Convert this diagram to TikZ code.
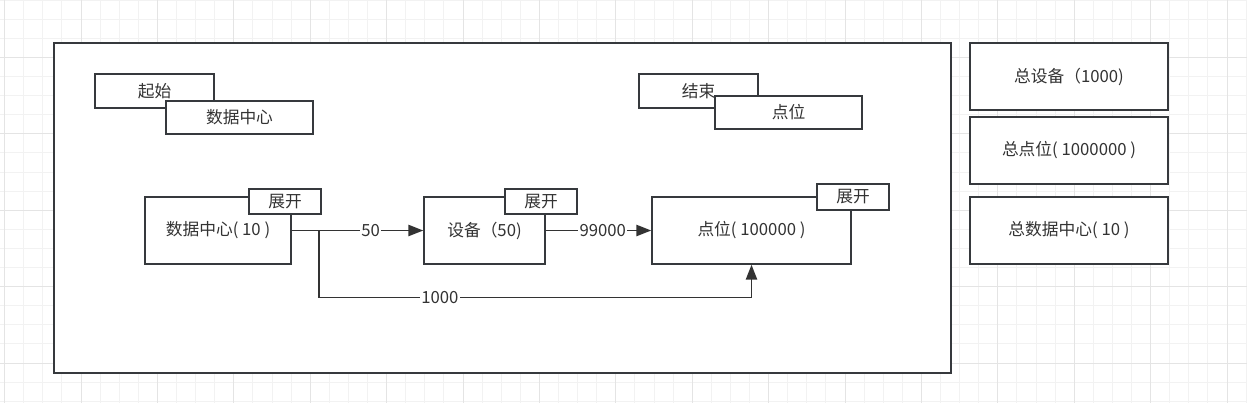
\documentclass[tikz,border=0pt]{standalone}
\usepackage{fontspec}
\setmainfont{Noto Sans CJK SC}
\usetikzlibrary{positioning,arrows.meta,calc}
\definecolor{linec}{HTML}{36393D}
\definecolor{textc}{HTML}{333333}
\definecolor{gridmin}{HTML}{F2F2F2}
\definecolor{gridmaj}{HTML}{E4E4E4}

\begin{document}
\begin{tikzpicture}[x=0.025cm,y=-0.025cm,
	box/.style={draw=linec, line width=1.1pt, fill=white, text=textc, inner sep=0pt,
		font=\fontsize{11.9}{13}\selectfont},
	conn/.style={draw=textc, line width=1pt, -{Triangle[length=10.5pt,width=8pt]}},
	lbl/.style={fill=white, text=textc, inner sep=1pt, font=\fontsize{11.9}{13}\selectfont}]
	\useasboundingbox (0,0) rectangle (1247,403);
	\fill[white] (0,0) rectangle (1247,403);
	% grid
	\begin{scope}[line width=0.6pt]
		\foreach \k in {0,...,65}
		\draw[gridmin] ({4.6+19.1*\k},0) -- ({4.6+19.1*\k},403);
		\foreach \k in {0,...,21}
		\draw[gridmin] (0,{0.1+19.1*\k}) -- (1247,{0.1+19.1*\k});
		\foreach \k in {0,...,16}
		\draw[gridmaj] ({4.6+76.4*\k},0) -- ({4.6+76.4*\k},403);
		\foreach \k in {0,...,4}
		\draw[gridmaj] (0,{57.4+76.4*\k}) -- (1247,{57.4+76.4*\k});
	\end{scope}

	\node[box, minimum width=22.425cm, minimum height=8.25cm] (frame) at (502.5,208) {};

	% legend boxes
	\node[box, minimum width=2.975cm, minimum height=0.85cm] (start) at (154.5,91) {起始};
	\node[box, minimum width=3.675cm, minimum height=0.825cm] (dcTop) at (239.5,117.5) {数据中心};
	\node[box, minimum width=2.975cm, minimum height=0.85cm] (finish) at (698.5,91) {结束};
	\node[box, minimum width=3.675cm, minimum height=0.825cm] (ptTop) at (788.5,112.5) {点位};

	% main boxes
	\node[box, minimum width=3.65cm, minimum height=1.675cm] (dc) at (218,230.5) {数据中心( 10 )};
	\node[box, minimum width=1.8cm, minimum height=0.625cm] (dcOpen) at (285,201.5) {展开};
	\node[box, minimum width=3.025cm, minimum height=1.675cm] (dev) at (484.5,230.5) {设备（50)};
	\node[box, minimum width=1.8cm, minimum height=0.625cm] (devOpen) at (541,201.5) {展开};
	\node[box, minimum width=4.975cm, minimum height=1.675cm] (pt) at (751.5,230.5) {点位( 100000 )};
	\node[box, minimum width=1.8cm, minimum height=0.65cm] (ptOpen) at (853,197) {展开};

	% totals
	\node[box, minimum width=4.95cm, minimum height=1.675cm] (totDev) at (1069,76.5) {总设备（1000)};
	\node[box, minimum width=4.95cm, minimum height=1.675cm] (totPt) at (1069,150.5) {总点位( 1000000 )};
	\node[box, minimum width=4.95cm, minimum height=1.675cm] (totDc) at (1069,230.5) {总数据中心( 10 )};

	\draw[conn] (dc.east) -- node[lbl, pos=0.6] {50} (dev.west);
	\draw[conn] (dev.east) -- node[lbl, pos=0.54] {99000} (pt.west);
	\draw[conn] (dc.east) -- ++(27,0) -- ++(0,67) -| node[lbl, pos=0.14] {1000} (pt.south);
\end{tikzpicture}
\end{document}
